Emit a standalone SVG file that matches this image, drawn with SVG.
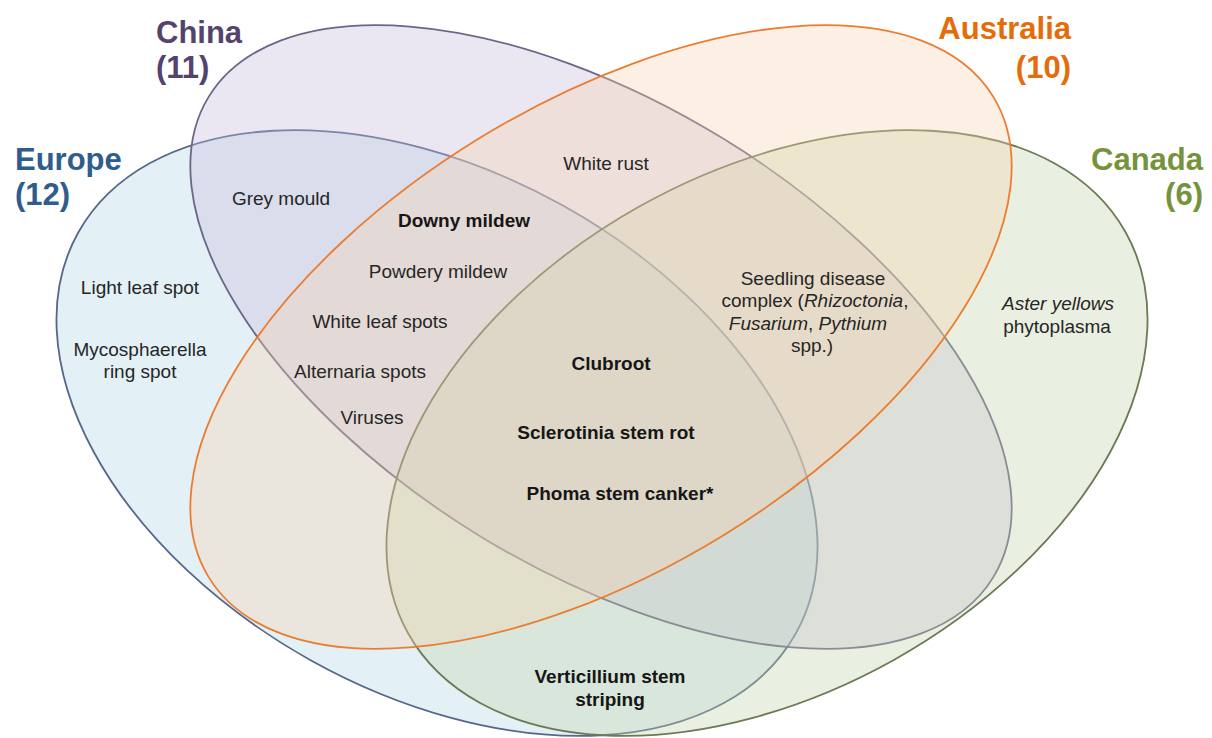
<svg xmlns="http://www.w3.org/2000/svg" width="1212" height="738" viewBox="0 0 1212 738">
<style>
.set{stroke-width:1.8;fill-opacity:0.35}
.title{font-family:"Liberation Sans",Arial,sans-serif;font-weight:bold;font-size:31px}
.item{font-family:"Liberation Sans",Arial,sans-serif;font-size:19px;fill:#262626;text-anchor:middle}
.b{font-weight:bold;fill:#161616}
.i{font-style:italic}
</style>
<rect width="1212" height="738" fill="#ffffff"/>
<g id="europe">
<ellipse class="set" cx="437" cy="433" rx="411" ry="260" transform="rotate(29.2 437 433)" fill="#afd4e5" stroke="#56688a"/>
<text class="title" x="15" y="170" fill="#2e5d8e">Europe</text>
<text class="title" x="15" y="205" fill="#2e5d8e">(12)</text>
</g>
<g id="china">
<ellipse class="set" cx="601" cy="337" rx="460" ry="233" transform="rotate(31.5 601 337)" fill="#c6bada" stroke="#6a6688"/>
<text class="title" x="156" y="43" fill="#54436f">China</text>
<text class="title" x="156" y="78" fill="#54436f">(11)</text>
</g>
<g id="canada">
<ellipse class="set" cx="767" cy="433" rx="411" ry="260" transform="rotate(-29.2 767 433)" fill="#c2d4a8" stroke="#6b7a55"/>
<text class="title" x="1203" y="170" fill="#76923c" text-anchor="end">Canada</text>
<text class="title" x="1203" y="205" fill="#76923c" text-anchor="end">(6)</text>
</g>
<g id="australia">
<ellipse class="set" cx="601" cy="337" rx="460" ry="233" transform="rotate(-31.5 601 337)" fill="#f6d0ae" stroke="#ec7d30"/>
<text class="title" x="1071" y="39" fill="#e46c0a" text-anchor="end">Australia</text>
<text class="title" x="1071" y="78" fill="#e46c0a" text-anchor="end">(10)</text>
</g>
<g id="items">
<text class="item" x="606" y="170">White rust</text>
<text class="item" x="281" y="205">Grey mould</text>
<text class="item b" x="464" y="227">Downy mildew</text>
<text class="item" x="438" y="278">Powdery mildew</text>
<text class="item" x="380" y="328">White leaf spots</text>
<text class="item" x="360" y="378">Alternaria spots</text>
<text class="item" x="372" y="424">Viruses</text>
<text class="item" x="140" y="294">Light leaf spot</text>
<text class="item" x="140" y="356">Mycosphaerella</text>
<text class="item" x="140" y="378">ring spot</text>
<text class="item b" x="611" y="370">Clubroot</text>
<text class="item b" x="606" y="439">Sclerotinia stem rot</text>
<text class="item b" x="620" y="500">Phoma stem canker*</text>
<text class="item" x="813" y="285">Seedling disease</text>
<text class="item" x="815" y="307">complex (<tspan class="i">Rhizoctonia</tspan>,</text>
<text class="item" x="808" y="330"><tspan class="i">Fusarium</tspan>, <tspan class="i">Pythium</tspan></text>
<text class="item" x="812" y="352">spp.)</text>
<text class="item i" x="1058" y="310">Aster yellows</text>
<text class="item" x="1057" y="333">phytoplasma</text>
<text class="item b" x="610" y="683">Verticillium stem</text>
<text class="item b" x="610" y="706">striping</text>
</g>
</svg>
